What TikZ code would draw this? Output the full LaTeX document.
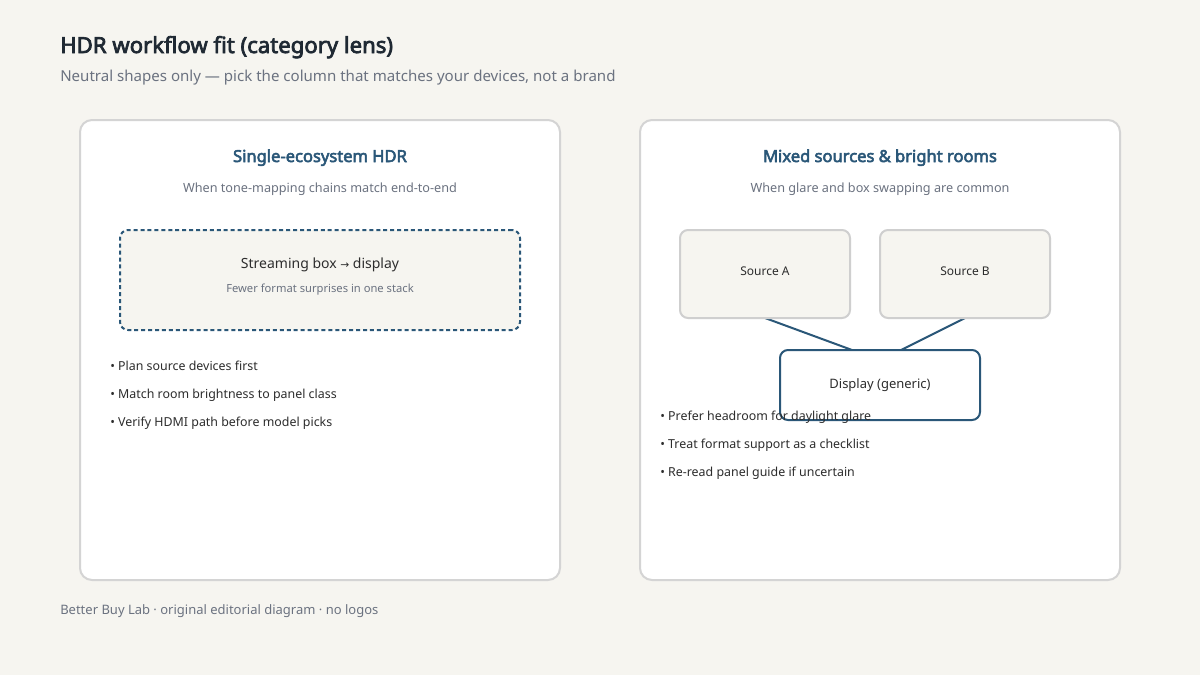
\documentclass[tikz,border=0pt]{standalone}
\usepackage{fontspec}
\setmainfont{Noto Sans}[BoldFont={Noto Sans}, BoldFeatures={FakeBold=3.2}]
\newfontfamily\symf{DejaVu Sans}
\definecolor{bg}{HTML}{F6F5F0}
\definecolor{cardline}{HTML}{D4D4D4}
\definecolor{boxline}{HTML}{CFCFCF}
\definecolor{accent}{HTML}{2A5778}
\definecolor{titlec}{HTML}{1F2933}
\definecolor{muted}{HTML}{6B7280}
\definecolor{textc}{HTML}{2D2D2D}
\tikzset{
  card/.style={draw=cardline, line width=1.5pt, fill=white, rounded corners=9pt,
    minimum width=360pt, minimum height=345pt, inner sep=0pt},
  dashbox/.style={draw=accent, line width=1.5pt, dashed, dash pattern=on 3pt off 2.2pt,
    fill=bg, rounded corners=6pt, minimum width=300pt, minimum height=75pt, inner sep=0pt},
  srcbox/.style={draw=boxline, line width=1.5pt, fill=bg, rounded corners=6pt,
    minimum width=127.5pt, minimum height=66pt, inner sep=0pt},
  dispbox/.style={draw=accent, line width=1.5pt, fill=white, rounded corners=6pt,
    minimum width=150pt, minimum height=52.5pt, inner sep=0pt},
  link/.style={draw=accent, line width=1.5pt},
  txt/.style={anchor=base, inner sep=0pt},
  ltxt/.style={anchor=base west, inner sep=0pt},
  maintitle/.style={ltxt, font=\bfseries\fontsize{16.6}{20}\selectfont, text=titlec},
  mainsub/.style={ltxt, font=\fontsize{11.3}{14}\selectfont, text=muted},
  cardtitle/.style={txt, font=\bfseries\fontsize{12.4}{15}\selectfont, text=accent},
  cardsub/.style={txt, font=\fontsize{9.5}{12}\selectfont, text=muted},
  boxmain/.style={txt, font=\fontsize{10.5}{13}\selectfont, text=textc},
  boxsub/.style={txt, font=\fontsize{8.4}{11}\selectfont, text=muted},
  srctxt/.style={txt, font=\fontsize{9}{11}\selectfont, text=textc},
  disptxt/.style={txt, font=\fontsize{9.75}{12}\selectfont, text=textc},
  bullet/.style={ltxt, font=\fontsize{9.3}{12}\selectfont, text=textc},
  footer/.style={ltxt, font=\fontsize{9.75}{12}\selectfont, text=muted}
}
\begin{document}
\begin{tikzpicture}[x=0.75pt,y=-0.75pt]
\fill[bg] (0,0) rectangle (1200,675);
\useasboundingbox (0,0) rectangle (1200,675);

\node[maintitle] (title) at (60,53) {HDR workflow fit (category lens)};
\node[mainsub] (subtitle) at (60,81) {Neutral shapes only — pick the column that matches your devices, not a brand};

% left card
\node[card] (cardL) at (320,350) {};
\node[cardtitle] (tL) at (320,162) {Single-ecosystem HDR};
\node[cardsub] (sL) at (320,192) {When tone-mapping chains match end-to-end};
\node[dashbox] (stack) at (320,280) {};
\node[boxmain] (stackT) at (320,268) {Streaming box {\symf\fontsize{8}{10}\selectfont →} display};
\node[boxsub] (stackS) at (320,292) {Fewer format surprises in one stack};
\node[bullet] (bL1) at (110,370) {• Plan source devices first};
\node[bullet] (bL2) at (110,398) {• Match room brightness to panel class};
\node[bullet] (bL3) at (110,426) {• Verify HDMI path before model picks};

% right card
\node[card] (cardR) at (880,350) {};
\node[cardtitle] (tR) at (880,162) {Mixed sources \& bright rooms};
\node[cardsub] (sR) at (880,192) {When glare and box swapping are common};

\coordinate (dA) at (852,350);
\coordinate (dB) at (901,350);
\coordinate (sAb) at (765,318);
\coordinate (sBb) at (965,318);
\draw[link] (sAb) -- (dA);
\draw[link] (sBb) -- (dB);

\node[srcbox] (srcA) at (765,274) {};
\node[srctxt] (srcAt) at (765,275) {Source A};
\node[srcbox] (srcB) at (965,274) {};
\node[srctxt] (srcBt) at (965,275) {Source B};
\node[dispbox] (disp) at (880,385) {};
\node[disptxt] (dispt) at (880,388.5) {Display (generic)};

\node[bullet] (bR1) at (660,420) {• Prefer headroom for daylight glare};
\node[bullet] (bR2) at (660,448) {• Treat format support as a checklist};
\node[bullet] (bR3) at (660,476) {• Re-read panel guide if uncertain};

\node[footer] (foot) at (60,614) {Better Buy Lab · original editorial diagram · no logos};
\end{tikzpicture}
\end{document}
